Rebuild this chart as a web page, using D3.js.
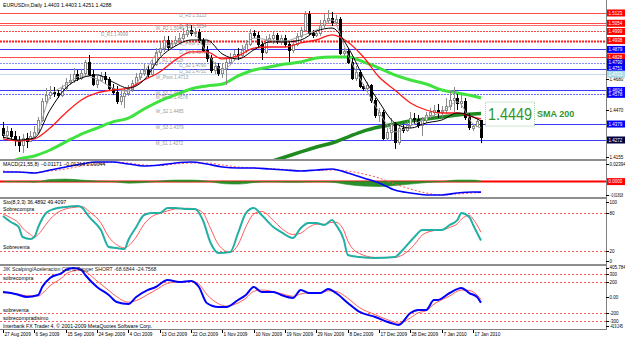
<!DOCTYPE html>
<html>
<head>
<meta charset="utf-8">
<script src="https://cdn.jsdelivr.net/npm/d3@7"></script>
<style>
  body { margin: 0; background: #fff; }
  svg { display: block; font-family: "Liberation Sans", Arial, sans-serif; }
</style>
</head>
<body>
<div id="chart"></div>
<script>
// ---- price bars (EURUSDm daily, 27 Aug 2009 - 19 Jan 2010) ----
const opens = [1.4352,1.4305,1.4332,1.4298,1.4272,1.4239,1.4285,1.4265,1.4298,1.4326,
  1.4406,1.4533,1.4574,1.4594,1.4587,1.4574,1.4620,1.4661,1.4674,1.4714,
  1.4687,1.4721,1.4795,1.4714,1.4647,1.4674,1.4701,1.4681,1.4620,1.4594,
  1.4533,1.4567,1.4587,1.4614,1.4654,1.4694,1.4721,1.4741,1.4714,1.4781,
  1.4862,1.4888,1.4942,1.4895,1.4922,1.4942,1.4955,1.4982,1.5009,1.4989,
  1.4996,1.4942,1.4875,1.4821,1.4741,1.4768,1.4721,1.4754,1.4795,1.4821,
  1.4848,1.4842,1.4875,1.4915,1.4989,1.4976,1.4915,1.4862,1.4942,1.4955,
  1.4976,1.4935,1.4955,1.4915,1.4875,1.4915,1.4969,1.5009,1.5116,1.4989,
  1.4976,1.4989,1.5043,1.5076,1.5089,1.5063,1.5083,1.4855,1.4868,1.4795,
  1.4687,1.4728,1.4634,1.4620,1.4641,1.4540,1.4440,1.4460,1.4285,1.4326,
  1.4379,1.4259,1.4352,1.4339,1.4373,1.4419,1.4413,1.4373,1.4406,1.4440,
  1.4460,1.4473,1.4460,1.4473,1.4500,1.4540,1.4553,1.4520,1.4533,1.4426,
  1.4352,1.4366,1.4403];
const highs = [1.4393,1.4366,1.4352,1.4332,1.4298,1.4312,1.4319,1.4332,1.4366,1.4426,
  1.4553,1.4620,1.4634,1.4627,1.4607,1.4641,1.4687,1.4714,1.4754,1.4741,
  1.4748,1.4808,1.4842,1.4741,1.4701,1.4728,1.4728,1.4694,1.4647,1.4634,
  1.4607,1.4620,1.4641,1.4674,1.4721,1.4748,1.4781,1.4768,1.4808,1.4888,
  1.4929,1.4969,1.4969,1.4942,1.4969,1.4989,1.5022,1.5049,1.5043,1.5022,
  1.5016,1.4955,1.4902,1.4842,1.4795,1.4788,1.4788,1.4821,1.4855,1.4875,
  1.4888,1.4909,1.4942,1.5016,1.5009,1.4996,1.4929,1.4969,1.4982,1.4996,
  1.4989,1.4976,1.4976,1.4929,1.4942,1.4989,1.5029,1.5136,1.5136,1.5009,
  1.5009,1.5076,1.5116,1.5143,1.5130,1.5110,1.5096,1.4888,1.4888,1.4821,
  1.4768,1.4741,1.4647,1.4661,1.4647,1.4553,1.4486,1.4473,1.4352,1.4419,
  1.4393,1.4379,1.4373,1.4399,1.4460,1.4453,1.4440,1.4426,1.4460,1.4486,
  1.4507,1.4513,1.4500,1.4553,1.4607,1.4627,1.4580,1.4574,1.4553,1.4453,
  1.4379,1.4413,1.4403];
const lows = [1.4285,1.4272,1.4279,1.4232,1.4192,1.4185,1.4218,1.4259,1.4285,1.4312,
  1.4393,1.4513,1.4547,1.4560,1.4553,1.4560,1.4600,1.4641,1.4654,1.4667,
  1.4674,1.4701,1.4701,1.4634,1.4620,1.4661,1.4647,1.4607,1.4574,1.4513,
  1.4507,1.4486,1.4567,1.4594,1.4634,1.4674,1.4701,1.4694,1.4701,1.4768,
  1.4835,1.4862,1.4875,1.4875,1.4902,1.4915,1.4935,1.4962,1.4969,1.4962,
  1.4922,1.4862,1.4795,1.4721,1.4714,1.4701,1.4687,1.4641,1.4775,1.4801,
  1.4808,1.4821,1.4855,1.4902,1.4955,1.4895,1.4808,1.4848,1.4922,1.4915,
  1.4915,1.4909,1.4895,1.4795,1.4855,1.4902,1.4955,1.4996,1.4976,1.4955,
  1.4962,1.4969,1.5022,1.5049,1.5036,1.5043,1.4842,1.4835,1.4781,1.4674,
  1.4667,1.4620,1.4600,1.4594,1.4520,1.4419,1.4393,1.4272,1.4265,1.4265,
  1.4212,1.4239,1.4319,1.4326,1.4352,1.4379,1.4352,1.4298,1.4386,1.4419,
  1.4426,1.4419,1.4426,1.4446,1.4473,1.4460,1.4473,1.4486,1.4406,1.4339,
  1.4332,1.4359,1.4251];
const closes = [1.4305,1.4332,1.4298,1.4272,1.4239,1.4285,1.4265,1.4298,1.4326,1.4406,
  1.4533,1.4574,1.4594,1.4587,1.4574,1.4620,1.4661,1.4674,1.4714,1.4687,
  1.4721,1.4795,1.4714,1.4647,1.4674,1.4701,1.4681,1.4620,1.4594,1.4533,
  1.4567,1.4587,1.4614,1.4654,1.4694,1.4721,1.4741,1.4714,1.4781,1.4862,
  1.4888,1.4942,1.4895,1.4922,1.4942,1.4955,1.4982,1.5009,1.4989,1.4996,
  1.4942,1.4875,1.4821,1.4741,1.4768,1.4721,1.4754,1.4795,1.4821,1.4848,
  1.4842,1.4875,1.4915,1.4989,1.4976,1.4915,1.4862,1.4942,1.4955,1.4976,
  1.4935,1.4955,1.4915,1.4875,1.4915,1.4969,1.5009,1.5116,1.4989,1.4976,
  1.4989,1.5043,1.5076,1.5089,1.5063,1.5083,1.4855,1.4868,1.4795,1.4687,
  1.4728,1.4634,1.4620,1.4641,1.4540,1.4440,1.4460,1.4285,1.4326,1.4379,
  1.4259,1.4352,1.4339,1.4373,1.4419,1.4413,1.4373,1.4406,1.4440,1.4460,
  1.4473,1.4460,1.4473,1.4500,1.4540,1.4553,1.4520,1.4533,1.4426,1.4359,
  1.4366,1.4399,1.4288];

// ---- moving averages, every 4 bars ----
const maIdx = [0,4,8,12,16,20,24,28,32,36,40,44,48,52,56,60,64,68,72,76,80,84,88,92,96,100,104,108,112,116,120,122];
const grayMa = [1.4312,1.4265,1.4292,1.4560,1.4641,1.4701,1.4681,1.4620,1.4600,1.4728,1.4875,1.4922,1.4996,1.4862,1.4741,1.4835,
  1.4955,1.4942,1.4935,1.4969,1.5009,1.5076,1.4842,1.4641,1.4460,1.4326,1.4366,1.4419,1.4460,1.4527,1.4379,1.4352];
const blackMa = [1.4292,1.4272,1.4285,1.4473,1.4620,1.4687,1.4708,1.4661,1.4620,1.4674,1.4821,1.4902,1.4942,1.4942,1.4848,1.4815,
  1.4875,1.4929,1.4929,1.4942,1.5002,1.5022,1.4895,1.4694,1.4527,1.4386,1.4352,1.4386,1.4406,1.4453,1.4426,1.4399];
const redMa = [1.4279,1.4265,1.4279,1.4352,1.4453,1.4540,1.4587,1.4607,1.4620,1.4674,1.4728,1.4808,1.4862,1.4862,1.4815,1.4835,
  1.4888,1.4895,1.4895,1.4922,1.4942,1.4976,1.4929,1.4828,1.4694,1.4607,1.4520,1.4473,1.4453,1.4453,1.4426,1.4413];
const limeMa = [1.4105,1.4145,1.4165,1.4205,1.4259,1.4312,1.4352,1.4393,1.4419,1.4480,1.4533,1.4574,1.4614,1.4634,1.4647,1.4701,
  1.4741,1.4761,1.4781,1.4795,1.4821,1.4828,1.4828,1.4795,1.4754,1.4708,1.4674,1.4647,1.4607,1.4587,1.4567,1.4553];
const sma200Idx = [68,72,76,80,84,88,92,96,100,104,108,112,116,120,122];
const sma200 = [1.4125,1.4158,1.4192,1.4225,1.4252,1.4292,1.4332,1.4359,1.4379,1.4399,1.4413,1.4426,1.4440,1.4446,1.4449];

// ---- pivot levels ----
const levelNames = ['D_R3','D_R2','W_R2','D_R1','D_Pivot','D_S1','M_R1','D_S2','D_S3','W_Pivot','W_S1','M_Pivot','W_S2','W_S3','M_S1'];
const levelValues = [1.5123,1.5054,1.5040,1.4999,1.4938,1.4879,1.4828,1.4790,1.4751,1.4713,1.4604,1.4578,1.4485,1.4379,1.4272];
const priceTicks = [1.4680,1.4470,1.4155];

// ---- MACD(21,55,8) ----
const macdMain = [0.01064,0.01064,0.00954,0.01286,0.01618,0.01951,0.02172,0.02172,0.01951,0.01729,0.01840,0.02062,0.02172,0.01951,0.01618,0.01508,
  0.01508,0.01397,0.01286,0.01175,0.01286,0.01397,0.00954,0.00400,-0.00154,-0.00930,-0.01262,-0.01484,-0.01484,-0.01262,-0.01152,-0.01171];
const macdSignal = [0.01175,0.01064,0.01009,0.01175,0.01397,0.01729,0.01951,0.02172,0.02062,0.01840,0.01785,0.01951,0.02062,0.02062,0.01840,0.01618,
  0.01508,0.01452,0.01341,0.01230,0.01230,0.01286,0.01175,0.00843,0.00400,-0.00265,-0.00819,-0.01262,-0.01484,-0.01373,-0.01262,-0.01214];
const macdHist = [0,0,-0.0006,0.0022,0.0028,0.0017,0.0006,0,-0.0017,-0.0011,0.0006,0.0017,0.0017,0.0006,-0.0022,-0.0028,
  -0.0011,0,-0.0006,-0.0006,0,-0.0006,-0.0033,-0.0050,-0.0055,-0.0044,-0.0028,-0.0011,0,0.0017,0.0017,0.00044];
const macdTicks = [0.02394,-0.01818];

// ---- Stochastic(8,3,3) ----
const stochIdx = [0,2,4,5,7,8,9,11,13,16,19,20,22,25,27,29,31,32,34,36,38,40,42,44,47,49,51,53,55,58,
  60,62,64,66,69,71,74,76,78,80,82,84,85,87,88,91,95,100,102,105,107,110,112,114,116,117,119,120,122];
const stochMain = [75,65.5,57.7,42,38.9,42,57.7,79.6,85.9,89,90.6,89,73.4,53,26.3,24.8,23.2,37.3,57.7,76.5,79.6,79.6,87.5,87.5,85.9,85.9,68.7,32.6,16.9,18.5,
  48.3,79.6,87.5,76.5,57.7,49.8,40.4,56.1,63.9,63.9,60.8,68.7,60.8,37.3,13.8,10.7,9.1,10.7,21.6,42,53,53,53,60.8,68.7,79.6,73.4,60.8,36.4892];
const stochSignal = [78,72,64,56,46,42,46,62,76,86,89,90,82,64,42,30,25,28,42,62,74,79,83,86,87,86,80,55,30,18,
  30,58,78,82,68,56,46,48,57,62,62,65,65,52,36,16,10,10,14,30,45,52,53,57,63,70,76,70,49.4097];
const stochLevels = [80,20];
const stochTicks = [100,80,20,0];

// ---- CCI & Trigger ----
const cciIdx = [0,2,4,6,9,10,12,15,16,18,20,21,24,27,29,32,34,37,39,42,45,48,50,52,55,57,60,62,64,66,
  69,71,74,76,78,81,83,85,88,91,95,99,101,104,106,108,110,111,114,117,119,121,122];
const cciMain = [70,57,32,6,32,134,249,313,351,377,351,287,134,32,-57,-83,6,96,134,223,198,211,134,-70,-121,-121,-32,32,134,70,
  70,32,-6,96,57,57,109,57,-70,-185,-249,-326,-351,-198,-160,-160,-32,-32,57,121,57,6,-68.6844];
const cciTrigger = [60,55,42,22,18,50,150,250,295,340,352,330,210,90,10,-60,-40,40,95,180,200,205,170,40,-80,-110,-70,-10,80,95,
  75,50,15,45,60,58,85,78,-10,-130,-220,-300,-330,-260,-195,-170,-85,-55,20,95,90,30,-24.7568];
const cciLevels = [300,200,-200,-300];
const cciTicks = [405.784,300,200,0,-200,-300,-419.245];

// ---- date axis ----
const dateIdx = [0,8,16,24,32,40,48,56,64,72,80,88,96,104,112,120];
const dateLabels = ['27 Aug 2009','6 Sep 2009','15 Sep 2009','24 Sep 2009','4 Oct 2009','13 Oct 2009','22 Oct 2009','1 Nov 2009',
  '10 Nov 2009','19 Nov 2009','29 Nov 2009','8 Dec 2009','17 Dec 2009','28 Dec 2009','7 Jan 2010','17 Jan 2010'];

// ================= drawing =================
const W = 625, H = 339, plotR = 606;
const svg = d3.select('#chart').append('svg').attr('width', W).attr('height', H);
const defs = svg.append('defs');
function clip(id, y0, y1) {
  defs.append('clipPath').attr('id', id).append('rect')
    .attr('x', 0).attr('y', y0).attr('width', plotR).attr('height', y1 - y0);
}
clip('cMain', 0, 159); clip('cMacd', 161, 197); clip('cSto', 199, 264); clip('cCci', 266, 329);

const x = d3.scaleLinear().domain([0, closes.length - 1]).range([3, 481]);
const yP = d3.scaleLinear().domain([1.4138, 1.5210]).range([160, 0]);
const yM = d3.scaleLinear().domain([-0.01818, 0.02394]).range([198, 160]);
const yS = d3.scaleLinear().domain([0, 100]).range([263.8, 200]);
const yC = d3.scaleLinear().domain([-419.245, 405.784]).range([330.3, 265.7]);

const fmt4 = d3.format('.4f');
const small = 5.2;

// pivot level styles
const levelStyle = {
  D_R3:   {c: '#ff4a4a', w: 1, d: null, box: '#ff0000', at: 45},
  D_R2:   {c: '#ff4a4a', w: 1, d: null, box: '#ff0000', at: 45},
  W_R2:   {c: '#ff6a6a', w: 1, d: null, box: null, at: 39},
  D_R1:   {c: '#ff4a4a', w: 1, d: '2,1', box: '#ff0000', at: 25},
  D_Pivot:{c: '#ff2020', w: 2, d: '2,1', box: '#ff0000', at: 45},
  D_S1:   {c: '#3a3aff', w: 1, d: null, box: '#0000ff', at: 45},
  M_R1:   {c: '#ff4a4a', w: 1, d: null, box: '#ff0000', at: 39},
  D_S2:   {c: '#8c8cff', w: 1, d: '2,1', box: '#0000e0', at: 45},
  D_S3:   {c: '#3a3aff', w: 1, d: null, box: '#0000ff', at: 45},
  W_Pivot:{c: '#c6d8ec', w: 1, d: null, box: '#a8dce8', at: 39},
  W_S1:   {c: '#3a3aff', w: 1, d: null, box: '#0000ff', at: 39},
  M_Pivot:{c: '#6a6aff', w: 1, d: '2,1', box: '#0000ff', at: 39},
  W_S2:   {c: null, w: 1, d: null, box: null, at: 39},
  W_S3:   {c: '#3a3aff', w: 1, d: null, box: '#0000ff', at: 39},
  M_S1:   {c: '#3a3aff', w: 1, d: null, box: '#000040', at: 39}
};

const levels = levelNames.map((n, i) => ({name: n, v: levelValues[i], s: levelStyle[n]}));

const gMain = svg.append('g').attr('clip-path', 'url(#cMain)');
gMain.selectAll('line.lvl').data(levels.filter(d => d.s.c)).join('line')
  .attr('x1', 0).attr('x2', plotR)
  .attr('y1', d => Math.round(yP(d.v)) + 0.5).attr('y2', d => Math.round(yP(d.v)) + 0.5)
  .attr('stroke', d => d.s.c).attr('stroke-width', d => d.s.w)
  .attr('stroke-dasharray', d => d.s.d);
gMain.selectAll('text.lvl').data(levels).join('text')
  .attr('x', d => x(d.s.at)).attr('y', d => yP(d.v) + 4.5)
  .attr('font-size', 4.6).attr('fill', '#9a9a9a')
  .text(d => d.name + ' ' + fmt4(d.v));

// moving averages behind candles
const lineP = (idx, vals) => d3.line().x((d, i) => x(idx[i])).y(d => yP(d)).curve(d3.curveMonotoneX)(vals);
gMain.append('path').attr('d', lineP(maIdx, limeMa)).attr('fill', 'none').attr('stroke', '#3fe23f').attr('stroke-width', 3);
gMain.append('path').attr('d', lineP(sma200Idx, sma200)).attr('fill', 'none').attr('stroke', '#1f8a1f').attr('stroke-width', 3.5);

// candles
const bars = d3.range(closes.length);
gMain.selectAll('line.wick').data(bars).join('line')
  .attr('x1', i => Math.round(x(i)) + 0.5).attr('x2', i => Math.round(x(i)) + 0.5)
  .attr('y1', i => yP(highs[i])).attr('y2', i => yP(lows[i]))
  .attr('stroke', i => closes[i] >= opens[i] ? '#8a8a8a' : '#000').attr('stroke-width', 1);
gMain.selectAll('rect.body').data(bars).join('rect')
  .attr('x', i => Math.round(x(i)) - 0.5).attr('width', 2)
  .attr('y', i => Math.round(yP(Math.max(opens[i], closes[i]))) + 0.5)
  .attr('height', i => Math.max(0.5, Math.round(Math.abs(yP(opens[i]) - yP(closes[i])))))
  .attr('fill', i => closes[i] >= opens[i] ? '#fff' : '#000')
  .attr('stroke', i => closes[i] >= opens[i] ? '#8a8a8a' : '#000').attr('stroke-width', 1);

gMain.append('path').attr('d', lineP(maIdx, grayMa)).attr('fill', 'none').attr('stroke', '#a0a0a0').attr('stroke-width', 1);
gMain.append('path').attr('d', lineP(maIdx, redMa)).attr('fill', 'none').attr('stroke', '#ff1a1a').attr('stroke-width', 1.3);
gMain.append('path').attr('d', lineP(maIdx, blackMa)).attr('fill', 'none').attr('stroke', '#000').attr('stroke-width', 1);

// SMA 200 callout
const lastSma = sma200[sma200.length - 1];
const yl = yP(lastSma);
svg.append('rect').attr('x', 485.5).attr('y', yl - 11.5).attr('width', 49).attr('height', 24)
  .attr('fill', '#fff').attr('stroke', '#9fd59f').attr('stroke-dasharray', '1,1');
svg.append('text').attr('x', 488).attr('y', yl + 6.5).attr('font-size', 17).attr('fill', '#2f962f')
  .attr('textLength', 44).attr('lengthAdjust', 'spacingAndGlyphs').text(fmt4(lastSma));
svg.append('text').attr('x', 537).attr('y', yl + 3).attr('font-size', 9).attr('font-weight', 'bold')
  .attr('fill', '#2f962f').text('SMA 200');

svg.append('text').attr('x', 3).attr('y', 7).attr('font-size', small).attr('fill', '#000')
  .text('EURUSDm,Daily  ' + [opens, highs, lows, closes].map(a => fmt4(a[a.length - 1])).join(' '));

// ---- MACD panel ----
const gMacd = svg.append('g').attr('clip-path', 'url(#cMacd)');
gMacd.append('line').attr('x1', 0).attr('x2', plotR).attr('y1', yM(0)).attr('y2', yM(0))
  .attr('stroke', '#ff0000').attr('stroke-width', 2);
gMacd.append('path')
  .attr('d', d3.area().x((d, i) => x(maIdx[i])).y0(yM(0)).y1(d => yM(d)).curve(d3.curveMonotoneX)(macdHist))
  .attr('fill', '#2b8f2b').attr('stroke', '#2b8f2b').attr('stroke-width', 0.6);
const lineM = (vals) => d3.line().x((d, i) => x(maIdx[i])).y(d => yM(d)).curve(d3.curveMonotoneX)(vals);
gMacd.append('path').attr('d', lineM(macdSignal)).attr('fill', 'none').attr('stroke', '#ff5050')
  .attr('stroke-width', 1).attr('stroke-dasharray', '2,2');
gMacd.append('path').attr('d', lineM(macdMain)).attr('fill', 'none').attr('stroke', '#0000ff').attr('stroke-width', 1.6);
svg.append('text').attr('x', 3).attr('y', 166).attr('font-size', small)
  .text('MACD(21,55,8) ' + [macdMain[macdMain.length - 1], macdSignal[macdSignal.length - 1], macdHist[macdHist.length - 1]]
    .map(v => d3.format('.5f')(v)).join(' '));

// ---- Stochastic panel ----
const gSto = svg.append('g').attr('clip-path', 'url(#cSto)');
gSto.selectAll('line.lv').data(stochLevels).join('line')
  .attr('x1', 0).attr('x2', plotR).attr('y1', d => Math.round(yS(d)) + 0.5).attr('y2', d => Math.round(yS(d)) + 0.5)
  .attr('stroke', '#ff5a5a').attr('stroke-dasharray', '2,2');
const lineS = (vals) => d3.line().x((d, i) => x(stochIdx[i])).y(d => yS(d)).curve(d3.curveMonotoneX)(vals);
gSto.append('path').attr('d', lineS(stochSignal)).attr('fill', 'none').attr('stroke', '#ff5a5a').attr('stroke-width', 1);
gSto.append('path').attr('d', lineS(stochMain)).attr('fill', 'none').attr('stroke', '#22b0a4').attr('stroke-width', 2);
svg.append('text').attr('x', 3).attr('y', 204).attr('font-size', small)
  .text('Sto(8,3,3) ' + stochMain[stochMain.length - 1] + ' ' + stochSignal[stochSignal.length - 1]);
svg.append('text').attr('x', 3).attr('y', yS(80) - 2).attr('font-size', small).text('Sobrecompra');
svg.append('text').attr('x', 3).attr('y', yS(20) - 2).attr('font-size', small).text('Sobreventa');

// ---- CCI panel ----
const gCci = svg.append('g').attr('clip-path', 'url(#cCci)');
gCci.selectAll('line.lv').data(cciLevels).join('line')
  .attr('x1', 0).attr('x2', plotR).attr('y1', d => Math.round(yC(d)) + 0.5).attr('y2', d => Math.round(yC(d)) + 0.5)
  .attr('stroke', '#ff5a5a').attr('stroke-dasharray', '2,2');
const lineC = (vals) => d3.line().x((d, i) => x(cciIdx[i])).y(d => yC(d)).curve(d3.curveMonotoneX)(vals);
gCci.append('path').attr('d', lineC(cciTrigger)).attr('fill', 'none').attr('stroke', '#ff5a5a').attr('stroke-width', 1);
gCci.append('path').attr('d', lineC(cciMain)).attr('fill', 'none').attr('stroke', '#0000ff').attr('stroke-width', 2);
svg.append('text').attr('x', 3).attr('y', 271).attr('font-size', small).attr('fill', '#222')
  .text('JIK Scalping/Aceleracion CCI & Trigger SHORT ' + cciMain[cciMain.length - 1] + ' ' + cciTrigger[cciTrigger.length - 1]);
svg.append('text').attr('x', 3).attr('y', yC(200) - 2).attr('font-size', small).text('sobrecompra');
svg.append('text').attr('x', 3).attr('y', yC(-200) - 1).attr('font-size', small).text('sobreventa');
svg.append('text').attr('x', 3).attr('y', yC(-300) - 1).attr('font-size', small).text('sobrecompradisimo');
svg.append('text').attr('x', 3).attr('y', 327.5).attr('font-size', small)
  .text('Interbank FX Trader 4, \u00a9 2001-2009 MetaQuotes Software Corp.');

// ---- frames ----
const frame = svg.append('g');
[159, 197, 264].forEach(y => frame.append('rect').attr('x', 0).attr('y', y).attr('width', plotR).attr('height', 2).attr('fill', '#8e8e8e'));
frame.append('line').attr('x1', 0).attr('x2', plotR + 1).attr('y1', 329.5).attr('y2', 329.5).attr('stroke', '#808080');
frame.append('line').attr('x1', plotR + 0.5).attr('x2', plotR + 0.5).attr('y1', 0).attr('y2', 330).attr('stroke', '#808080');

// ---- right axis ----
const axR = svg.append('g').attr('font-size', 4.5);
function tick(y, label) {
  axR.append('line').attr('x1', plotR).attr('x2', plotR + 3).attr('y1', Math.round(y) + 0.5).attr('y2', Math.round(y) + 0.5).attr('stroke', '#000');
  const t = axR.append('text').attr('x', plotR + 3.5).attr('y', y + 1.8).attr('fill', '#000').text(label);
  if (label.length > 7) t.attr('textLength', 13.5).attr('lengthAdjust', 'spacingAndGlyphs');
}
priceTicks.forEach(v => tick(yP(v), fmt4(v)));
axR.selectAll('rect.lb').data(levels.filter(d => d.s.box)).join('rect')
  .attr('x', plotR + 1).attr('y', d => yP(d.v) - 3.5).attr('width', 18).attr('height', 7)
  .attr('fill', d => d.s.box);
axR.selectAll('text.lb').data(levels.filter(d => d.s.box)).join('text')
  .attr('x', plotR + 2.5).attr('y', d => yP(d.v) + 1.8).attr('fill', '#fff').text(d => fmt4(d.v));

tick(Math.max(yM(macdTicks[0]), 164), d3.format('.5f')(macdTicks[0]));
tick(Math.min(yM(macdTicks[1]), 195), d3.format('.5f')(macdTicks[1]));
axR.append('rect').attr('x', plotR + 1).attr('y', yM(0) - 3.5).attr('width', 18).attr('height', 7).attr('fill', '#ff0000');
axR.append('text').attr('x', plotR + 2.5).attr('y', yM(0) + 1.8).attr('fill', '#fff').text('0.0000');

stochTicks.forEach(v => tick(Math.min(Math.max(yS(v), 202), 261), String(v)));
cciTicks.forEach(v => tick(Math.min(Math.max(yC(v), 267.5), 326), v === 0 ? '0.00' : String(v)));

// ---- date axis ----
const axB = svg.append('g').attr('font-size', 4.7);
dateIdx.forEach((i, k) => {
  const xx = Math.round(x(i)) + 0.5;
  axB.append('line').attr('x1', xx).attr('x2', xx).attr('y1', 330).attr('y2', 333).attr('stroke', '#000');
  axB.append('text').attr('x', xx + 1).attr('y', 336).text(dateLabels[k]);
});
</script>
</body>
</html>
